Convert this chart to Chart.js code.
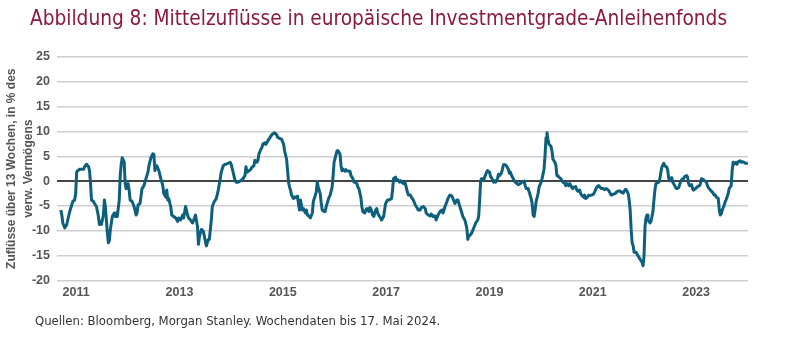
<!DOCTYPE html>
<html lang="de">
<head>
<meta charset="utf-8">
<title>Mittelzuflüsse in europäische Investmentgrade-Anleihenfonds</title>
<script src="https://cdn.jsdelivr.net/npm/chart.js@4.4.1/dist/chart.umd.min.js"></script>
<style>
  html, body { margin: 0; padding: 0; background: #fff; }
  #wrap { position: relative; width: 800px; height: 337px; overflow: hidden; }
  #chartBox { position: absolute; left: 0; top: 0; width: 800px; height: 337px; }
  .title {
    position: absolute; left: 30px; top: 7px; margin: 0;
    font: normal 22px/22px 'Liberation Sans Narrow', 'DejaVu Sans Condensed', sans-serif;
    color: #8b1a3e; white-space: nowrap;
    transform: scaleX(0.938); transform-origin: left top;
  }
  .source {
    position: absolute; left: 35px; top: 313px; margin: 0;
    font: 13px/15px 'Liberation Sans Narrow', 'DejaVu Sans Condensed', sans-serif;
    color: #333; white-space: nowrap;
  }
</style>
</head>
<body>
<div id="wrap">
  <div id="chartBox"><canvas id="flowChart"></canvas></div>
  <h1 class="title">Abbildung 8: Mittelzuflüsse in europäische Investmentgrade-Anleihenfonds</h1>
  <p class="source">Quellen: Bloomberg, Morgan Stanley. Wochendaten bis 17. Mai 2024.</p>
</div>
<script>
// Weekly observations: week number counted from Fri 31 Dec 2010 (week 698 = 17 May 2024)
const weekNo = [
  4, 5, 6, 8, 10, 11, 13, 15, 16, 18,
  19, 20, 21, 23, 25, 27, 28, 30, 32, 33,
  34, 35, 37, 38, 40, 42, 43, 44, 45, 47,
  48, 49, 51, 52, 53, 54, 56, 58, 59, 60,
  61, 63, 64, 65, 66, 68, 69, 70, 72, 73,
  74, 76, 78, 80, 81, 82, 84, 86, 88, 90,
  92, 93, 95, 97, 98, 99, 100, 101, 103, 105,
  107, 108, 110, 111, 112, 113, 115, 116, 118, 120,
  122, 123, 125, 127, 128, 130, 132, 133, 135, 137,
  139, 140, 142, 143, 144, 146, 148, 149, 151, 153,
  154, 156, 157, 159, 160, 161, 163, 165, 166, 168,
  170, 171, 173, 175, 176, 178, 180, 181, 183, 185,
  186, 188, 190, 191, 192, 194, 196, 197, 199, 200,
  202, 203, 204, 206, 207, 208, 210, 211, 212, 214,
  215, 217, 218, 220, 222, 223, 225, 227, 229, 230,
  232, 233, 234, 235, 236, 237, 239, 240, 241, 243,
  244, 245, 246, 247, 248, 249, 251, 252, 253, 255,
  256, 258, 259, 260, 262, 263, 264, 266, 267, 268,
  270, 271, 272, 274, 275, 276, 278, 279, 280, 282,
  283, 284, 286, 287, 288, 289, 291, 292, 293, 295,
  296, 297, 299, 300, 301, 303, 304, 305, 307, 308,
  309, 311, 312, 313, 315, 316, 317, 319, 320, 322,
  323, 324, 326, 327, 328, 330, 331, 332, 334, 335,
  336, 338, 339, 340, 342, 343, 344, 346, 347, 348,
  350, 351, 352, 354, 355, 357, 358, 360, 362, 363,
  365, 367, 368, 370, 372, 373, 375, 377, 378, 380,
  382, 383, 385, 387, 389, 390, 392, 394, 395, 397,
  399, 400, 402, 404, 405, 407, 409, 410, 412, 414,
  415, 416, 418, 419, 421, 423, 425, 426, 427, 428,
  429, 431, 432, 434, 435, 437, 438, 439, 441, 442,
  443, 445, 446, 447, 449, 450, 451, 453, 454, 456,
  457, 458, 460, 461, 462, 464, 465, 466, 468, 469,
  470, 472, 473, 474, 476, 477, 478, 479, 480, 481,
  482, 483, 484, 486, 487, 489, 490, 491, 492, 493,
  494, 495, 496, 497, 499, 500, 501, 503, 504, 505,
  506, 507, 509, 510, 511, 513, 514, 515, 517, 518,
  519, 521, 522, 524, 525, 526, 528, 529, 530, 532,
  533, 534, 536, 537, 538, 540, 542, 543, 545, 547,
  548, 550, 552, 553, 555, 557, 559, 560, 562, 564,
  565, 567, 569, 570, 572, 574, 575, 577, 578, 579,
  580, 581, 582, 583, 585, 586, 587, 589, 591, 592,
  593, 594, 595, 596, 597, 599, 600, 602, 603, 604,
  605, 606, 608, 609, 610, 611, 613, 614, 616, 617,
  618, 619, 621, 622, 624, 625, 626, 628, 629, 630,
  632, 633, 634, 636, 637, 638, 639, 641, 642, 643,
  645, 646, 647, 649, 650, 651, 653, 654, 656, 657,
  658, 660, 661, 662, 664, 665, 666, 668, 669, 670,
  671, 672, 674, 675, 676, 678, 679, 680, 681, 682,
  683, 684, 686, 687, 688, 690, 691, 693, 694, 695,
  697, 698
];

// 13-week inflows in % of assets under management
const flows = [
  -5.8, -6.8, -8.4, -9.4, -8.7, -7.8, -6.1, -4.8, -4.1, -3.8,
  -2.5, 1.8, 2.1, 2.4, 2.4, 2.4, 2.9, 3.4, 2.9, 2.1,
  -0.5, -3.8, -4.1, -4.5, -5.1, -7.1, -8.7, -8.1, -8.7, -6.8,
  -3.8, -5.1, -10.4, -12.4, -12.0, -9.7, -7.1, -6.4, -7.1, -6.4,
  -7.1, -3.8, 1.1, 3.4, 4.7, 3.8, -0.5, -1.5, -0.5, -1.8,
  -3.8, -4.1, -5.1, -6.8, -6.4, -4.8, -4.5, -1.5, -0.9, 0.5,
  1.8, 3.1, 4.7, 5.5, 5.4, 2.1, 3.1, 3.1, 2.1, 0.5,
  -0.9, -2.5, -3.2, -1.8, -3.8, -3.5, -5.1, -6.8, -7.1, -7.4,
  -8.1, -7.4, -7.8, -6.8, -7.4, -5.1, -6.8, -7.4, -7.8, -8.4,
  -7.4, -6.8, -9.1, -12.7, -11.1, -9.7, -10.1, -11.1, -13.0, -11.7,
  -11.7, -7.8, -5.1, -4.1, -3.8, -3.5, -1.8, 0.5, 1.8, 3.1,
  3.4, 3.4, 3.6, 3.8, 3.4, 1.8, 0.1, -0.2, -0.2, 0.0,
  0.1, 0.5, 1.1, 2.9, 1.8, 2.1, 2.4, 2.8, 3.1, 4.2,
  3.8, 4.1, 5.4, 6.4, 6.7, 7.4, 7.7, 7.4, 7.7, 8.4,
  8.7, 9.3, 9.5, 9.7, 9.3, 8.8, 8.6, 8.4, 7.4, 6.1,
  4.4, 2.1, -0.2, -1.2, -1.8, -2.8, -3.5, -3.2, -3.3, -3.0,
  -4.5, -5.8, -3.8, -4.8, -5.8, -5.5, -6.4, -5.8, -6.8, -7.1,
  -7.4, -6.4, -4.1, -3.5, -2.2, -0.2, -1.2, -2.5, -4.5, -5.8,
  -6.1, -6.1, -5.1, -3.8, -3.2, -2.8, -1.2, 1.1, 3.8, 5.4,
  6.1, 6.1, 5.4, 3.1, 2.1, 2.4, 2.0, 2.3, 2.1, 2.0,
  2.0, 1.1, 0.5, -0.2, -0.2, -0.5, -1.2, -1.5, -3.2, -5.1,
  -6.1, -6.4, -5.8, -5.5, -6.1, -5.3, -5.5, -6.8, -7.1, -5.8,
  -5.5, -6.4, -7.1, -7.4, -7.8, -7.1, -5.8, -4.5, -3.8, -3.8,
  -3.7, -3.5, -1.8, 0.5, 0.8, 0.1, 0.3, -0.2, 0.1, -0.2,
  -0.5, -0.2, -0.5, -2.2, -2.8, -2.8, -3.2, -3.8, -4.8, -5.1,
  -5.8, -5.8, -5.3, -5.1, -5.5, -6.4, -6.8, -7.0, -6.6, -7.1,
  -7.0, -7.8, -6.8, -6.1, -5.8, -6.4, -5.1, -4.1, -3.5, -2.8,
  -3.0, -3.5, -4.5, -3.8, -3.8, -5.1, -6.4, -7.1, -7.8, -9.4,
  -11.7, -11.1, -10.7, -10.4, -9.4, -8.4, -7.8, -7.1, -3.8, 0.1,
  0.5, 0.1, 0.8, 1.8, 2.1, 1.8, 0.9, 0.7, -0.2, 0.1,
  -0.2, 0.5, 1.4, 1.1, 1.6, 2.4, 3.3, 3.3, 3.1, 2.4,
  1.6, 1.8, 0.8, 0.5, 0.0, -0.4, -0.5, -0.7, -0.5, -0.2,
  -0.2, 0.0, -0.9, -1.5, -1.5, -2.2, -2.8, -3.5, -4.5, -6.8,
  -7.1, -5.8, -4.1, -2.5, -1.2, -0.2, 0.5, 1.4, 2.4, 5.1,
  8.7, 9.7, 8.4, 7.4, 7.0, 6.1, 4.4, 3.8, 3.1, 1.1,
  1.1, 0.8, 0.5, 0.1, -0.2, -0.5, -0.9, -0.5, -0.9, -0.5,
  -0.9, -1.5, -1.2, -1.1, -1.7, -2.0, -1.8, -2.5, -2.8, -3.2,
  -2.8, -3.5, -3.2, -2.8, -2.9, -2.8, -2.6, -2.2, -1.3, -0.9,
  -1.1, -1.5, -1.5, -1.7, -1.5, -1.8, -2.5, -2.8, -2.6, -2.5,
  -2.2, -2.0, -2.0, -2.2, -2.4, -1.7, -1.7, -2.5, -3.8, -5.8,
  -9.7, -12.4, -13.0, -14.3, -14.3, -14.7, -15.0, -15.7, -16.3, -17.0,
  -15.0, -9.1, -7.4, -6.8, -7.8, -8.4, -8.1, -6.1, -3.8, -1.8,
  -0.5, -0.4, -0.2, 0.5, 1.8, 2.8, 3.6, 3.1, 2.8, 2.1,
  0.5, 0.1, 0.7, -0.2, -0.9, -1.3, -1.5, -1.3, -0.7, 0.0,
  0.5, 0.5, 0.9, 1.1, 0.8, -0.5, -0.9, -0.7, -1.5, -1.8,
  -1.5, -1.3, -1.1, -0.9, -0.5, 0.5, 0.3, 0.1, -0.2, -0.9,
  -1.3, -1.8, -2.0, -2.2, -2.8, -2.8, -3.2, -3.5, -5.8, -6.8,
  -6.6, -5.8, -4.8, -4.1, -3.7, -2.5, -1.5, -1.2, -0.9, 2.1,
  3.8, 3.4, 3.8, 3.4, 3.9, 4.1, 3.8, 3.9, 3.8, 3.6,
  3.6, 3.7
];

const yearLabels = [2011, 2013, 2015, 2017, 2019, 2021, 2023];
const yTicks = [-20, -15, -10, -5, 0, 5, 10, 15, 20, 25];
const yTitle = ['Zuflüsse über 13 Wochen, in % des', 'verw. Vermögens'];

// convert week number to decimal year
const toYear = w => 2011 + (w * 7 - 1) / 365.25;
const points = weekNo.map((w, i) => ({ x: toYear(w), y: flows[i] }));

const tickFont = { family: "'Liberation Sans', Arial, sans-serif", size: 12.5, weight: 'bold' };
const axisGrey = '#555555';

new Chart(document.getElementById('flowChart'), {
  type: 'line',
  data: {
    datasets: [{
      data: points,
      borderColor: '#0d5f7c',
      borderWidth: 3,
      borderJoinStyle: 'round',
      pointRadius: 0,
      tension: 0,
      fill: false
    }]
  },
  options: {
    responsive: true,
    maintainAspectRatio: false,
    animation: false,
    layout: { padding: { top: 56.7, right: 52, bottom: 0, left: 0 } },
    plugins: {
      legend: { display: false },
      tooltip: { enabled: false }
    },
    scales: {
      x: {
        type: 'linear',
        min: 2011,
        max: toYear(weekNo[weekNo.length - 1]),
        grid: { display: false, drawTicks: false },
        border: { display: false },
        afterBuildTicks: scale => {
          // year labels sit a little right of 1 January
          scale.ticks = yearLabels.map(y => ({ value: y + 0.37 }));
        },
        afterFit: scale => { scale.height = 56.3; },
        ticks: {
          autoSkip: false,
          maxRotation: 0,
          padding: 4,
          color: axisGrey,
          font: tickFont,
          callback: v => String(Math.floor(v))
        }
      },
      y: {
        min: -20,
        max: 25,
        afterBuildTicks: scale => {
          scale.ticks = yTicks.map(v => ({ value: v }));
        },
        afterFit: scale => { scale.width = 57; },
        grid: {
          drawTicks: false,
          color: ctx => ctx.tick && ctx.tick.value === 0 ? '#444444' : '#cfcfcf',
          lineWidth: ctx => ctx.tick && ctx.tick.value === 0 ? 2 : 1.5
        },
        border: { display: false },
        ticks: {
          padding: 7,
          color: axisGrey,
          font: tickFont
        },
        title: {
          display: true,
          text: yTitle,
          color: axisGrey,
          font: { family: "'Liberation Sans', Arial, sans-serif", size: 12, weight: 'bold', lineHeight: 1.4 },
          padding: { top: 3, bottom: 0 }
        }
      }
    }
  }
});
</script>
</body>
</html>
